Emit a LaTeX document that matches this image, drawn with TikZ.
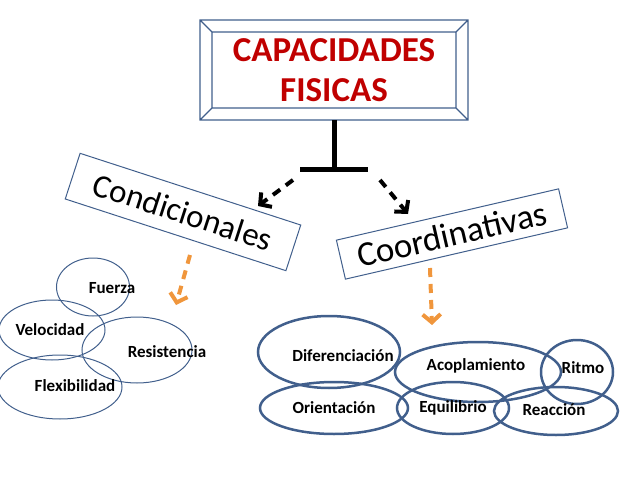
\documentclass[tikz,border=0pt]{standalone}
\usepackage{fontspec}
\setmainfont{Carlito}
\usetikzlibrary{shapes.geometric,arrows.meta}
\definecolor{borde}{RGB}{65,95,140}
\definecolor{rojo}{RGB}{192,0,0}
\definecolor{naranja}{RGB}{240,150,60}
\begin{document}
\begin{tikzpicture}
  [x=1pt,y=-1pt,
   elip/.style={draw=borde,ellipse,inner sep=0pt},
   fina/.style={elip,line width=1pt},
   gruesa/.style={elip,line width=2.5pt},
   etq/.style={font=\bfseries\fontsize{17}{20}\selectfont},
   caja/.style={draw=borde,line width=1pt,minimum height=48pt,font=\fontsize{33}{38}\selectfont,inner xsep=4pt},
   flecha/.style={line width=4pt,dash pattern=on 9pt off 7pt,-{Straight Barb[length=8pt,width=18pt,line width=4pt]}}]
  \useasboundingbox (0,0) rectangle (638,479);
  % titulo
  \draw[borde,line width=1.2pt] (200,20) rectangle (468,120) (212,32) rectangle (456,108)
  (200,20)--(212,32) (468,20)--(456,32) (200,120)--(212,108) (468,120)--(456,108);
  \node[rojo,font=\bfseries\fontsize{35}{40}\selectfont,align=center] (tit) at (334,70)
  {CAPACIDADES\\FISICAS};
  \coordinate (pie) at (334,120);
  \coordinate (barra) at (334,169);
  \draw[line width=5pt] (pie)--(barra) (300,169)--(368,169);
  % ramas
  \node[caja,rotate=-18,minimum width=232pt] (cond) at (183,212) {Condicionales};
  \node[caja,rotate=13,minimum width=228pt,minimum height=40pt,font=\fontsize{35}{40}\selectfont] (coord) at (452,234) {Coordinativas};
  \draw[flecha] (293,180)--(258,206);
  \draw[flecha] (380,180)--(408,214);
  \draw[flecha,naranja] (190,255)--(176,305);
  \draw[flecha,naranja] (430,268)--(432,325);
  % condicionales
  \node[fina,minimum width=73pt,minimum height=58pt] (fue) at (93,287) {};
  \node[fina,minimum width=106pt,minimum height=60pt] (vel) at (52,330) {};
  \node[fina,minimum width=110pt,minimum height=66pt] (res) at (137,350) {};
  \node[fina,minimum width=124pt,minimum height=64pt] (fle) at (60,387) {};
  \node[etq] at (112,288) {Fuerza};
  \node[etq] at (50,330) {Velocidad};
  \node[etq] at (167,352) {Resistencia};
  \node[etq] at (75,386) {Flexibilidad};
  % coordinativas
  \node[gruesa,minimum width=142pt,minimum height=72pt] (dif) at (329,352) {};
  \node[gruesa,minimum width=166pt,minimum height=60pt] (aco) at (478,372) {};
  \node[gruesa,minimum width=72pt,minimum height=64pt] (rit) at (577,372) {};
  \node[gruesa,minimum width=148pt,minimum height=52pt] (ori) at (334,408) {};
  \node[gruesa,minimum width=112pt,minimum height=52pt] (equ) at (453,408) {};
  \node[gruesa,minimum width=124pt,minimum height=48pt] (rea) at (556,411) {};
  \node[etq] at (343,356) {Diferenciación};
  \node[etq] at (476,366) {Acoplamiento};
  \node[etq] at (583,368) {Ritmo};
  \node[etq] at (334,408) {Orientación};
  \node[etq] at (453,408) {Equilibrio};
  \node[etq] at (554,410) {Reacción};
\end{tikzpicture}
\end{document}
